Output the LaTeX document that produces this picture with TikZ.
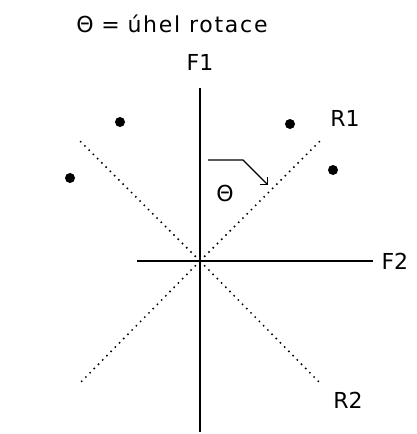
\documentclass[tikz,border=0pt]{standalone}
\usepackage{fontspec}
\setmainfont{DejaVu Sans}
\usetikzlibrary{positioning,arrows.meta}

\begin{document}
\begin{tikzpicture}[x=1pt, y=-1pt, font=\fontsize{22}{24}\selectfont,
  axis/.style={line width=1.8pt},
  rot/.style={line width=1.5pt, dash pattern=on 1.5pt off 4.5pt},
  pt/.style={circle, fill, inner sep=0pt, minimum size=10pt},
  arr/.style={-{Straight Barb[length=5pt, width=10pt]}, line width=1.4pt}]
\useasboundingbox (0,0) rectangle (416,434);
\coordinate (O) at (200,261);
\node (title) at (172,24) {\addfontfeature{LetterSpace=8}Θ\hspace{0.35em}=\hspace{0.35em}úhel rotace};
% axes
\coordinate (f1t) at (200,88);
\coordinate (f1b) at (200,432);
\coordinate (f2l) at (137,261);
\coordinate (f2r) at (373,261);
\node (F1) at (200,62) {F1};
\node[anchor=west] (F2) at (378,261) {F2};
\draw[axis] (f1t) -- (f1b);
\draw[axis] (f2l) -- (f2r);
% rotated axes
\coordinate (r1) at (320,141);
\coordinate (r1b) at (80,141);
\coordinate (r2) at (320,383);
\coordinate (r2b) at (80,383);
\node (R1) at (345,118) {R1};
\node (R2) at (348,400) {R2};
\draw[rot] (O) -- (r1);
\draw[rot] (O) -- (r1b);
\draw[rot] (O) -- (r2);
\draw[rot] (O) -- (r2b);
% points
\node[pt] (p1) at (120,122) {};
\node[pt] (p2) at (70,178) {};
\node[pt] (p3) at (290,124) {};
\node[pt] (p4) at (333,170) {};
% angle
\coordinate (a0) at (208,160);
\coordinate (a1) at (243,160);
\coordinate (a2) at (268,185);
\draw[arr] (a0) -- (a1) -- (a2);
\node (th) at (225,193) {Θ};
\end{tikzpicture}
\end{document}
